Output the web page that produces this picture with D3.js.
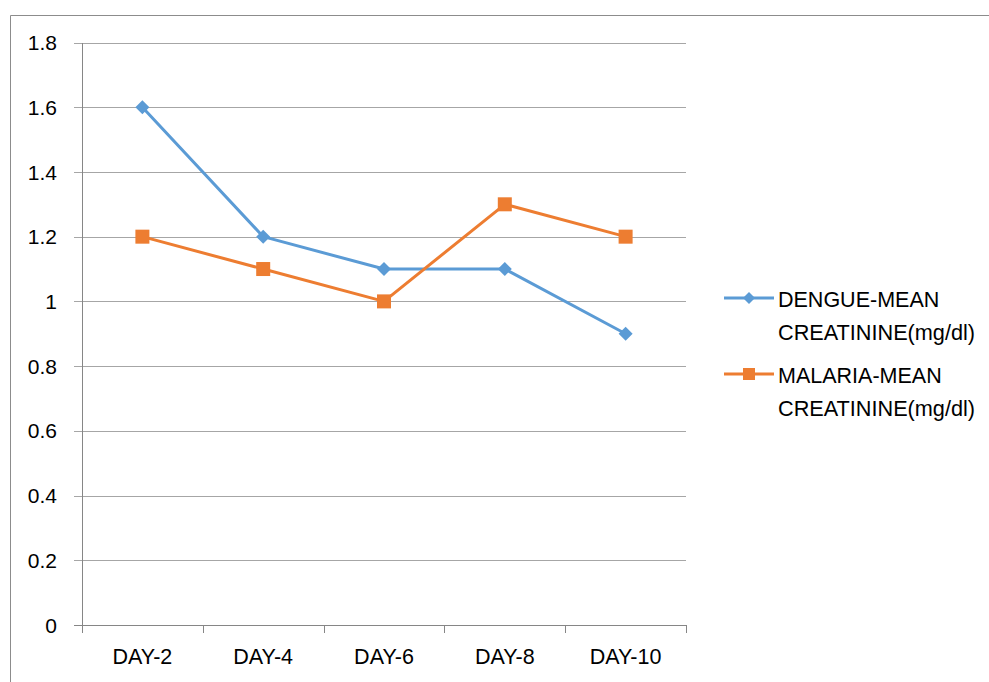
<!DOCTYPE html>
<html><head><meta charset="utf-8">
<script src="https://cdn.jsdelivr.net/npm/d3@7"></script>
<style>body{margin:0;background:#fff}svg{display:block}text{font-family:"Liberation Sans",Arial,sans-serif;fill:#000}</style>
</head><body><svg id="c" width="989" height="682"></svg>
<script>
const categories = ["DAY-2","DAY-4","DAY-6","DAY-8","DAY-10"];
const dengue = [1.6,1.2,1.1,1.1,0.9];
const malaria = [1.2,1.1,1.0,1.3,1.2];
const yTicks = [0,0.2,0.4,0.6,0.8,1,1.2,1.4,1.6,1.8];
const seriesNames = [["DENGUE-MEAN","CREATININE(mg/dl)"],["MALARIA-MEAN","CREATININE(mg/dl)"]];
const colors = ["#5B9BD5","#ED7D31"];

const svg = d3.select("#c");
const L=82,R=686,T=42.5,B=625;
svg.append("path").attr("d","M10.5,682 V15.5 H989").attr("fill","none").attr("stroke","#8c8c8c").attr("stroke-width",1);

const x = d3.scaleBand().domain(categories).range([L,R]);
const y = d3.scaleLinear().domain([0,1.8]).range([B,T]);

svg.append("g").selectAll("line").data(yTicks).join("line")
  .attr("x1",L-8).attr("x2",R).attr("y1",d=>Math.round(y(d))+0.5).attr("y2",d=>Math.round(y(d))+0.5)
  .attr("stroke",d=>d===0?"#868686":"#a6a6a6").attr("stroke-width",1);
svg.append("line").attr("x1",L+0.5).attr("x2",L+0.5).attr("y1",Math.round(T)).attr("y2",B+0.5).attr("stroke","#868686");
const bounds = categories.map(c=>x(c)).concat([R]);
svg.append("g").selectAll("line").data(bounds).join("line")
  .attr("x1",d=>Math.round(d)+0.5).attr("x2",d=>Math.round(d)+0.5).attr("y1",B).attr("y2",B+8).attr("stroke","#868686");
svg.append("g").selectAll("text").data(yTicks).join("text")
  .attr("x",57).attr("y",d=>y(d)).attr("dy","0.36em").attr("text-anchor","end").attr("font-size",21)
  .text(d=>d3.format("")(d));
svg.append("g").selectAll("text").data(categories).join("text")
  .attr("x",d=>x(d)+x.bandwidth()/2).attr("y",656).attr("dy","0.36em").attr("text-anchor","middle").attr("font-size",21.5)
  .text(d=>d);

const line = d3.line().x((d,i)=>x(categories[i])+x.bandwidth()/2).y(d=>y(d));
const data=[dengue,malaria];
data.forEach((s,k)=>{
  svg.append("path").attr("d",line(s)).attr("fill","none").attr("stroke",colors[k]).attr("stroke-width",3).attr("stroke-linejoin","round");
  const g=svg.append("g");
  s.forEach((v,i)=>{
    const cx=x(categories[i])+x.bandwidth()/2, cy=y(v);
    if(k===0) g.append("path").attr("d",`M${cx},${cy-7}L${cx+7},${cy}L${cx},${cy+7}L${cx-7},${cy}Z`).attr("fill",colors[k]);
    else g.append("rect").attr("x",cx-7).attr("y",cy-7).attr("width",14).attr("height",14).attr("fill",colors[k]);
  });
});

const legY=[298,374];
seriesNames.forEach((nm,k)=>{
  const ly=legY[k];
  svg.append("line").attr("x1",724).attr("x2",774).attr("y1",ly).attr("y2",ly).attr("stroke",colors[k]).attr("stroke-width",3);
  const cx=749;
  if(k===0) svg.append("path").attr("d",`M${cx},${ly-6}L${cx+6},${ly}L${cx},${ly+6}L${cx-6},${ly}Z`).attr("fill",colors[k]);
  else svg.append("rect").attr("x",cx-6).attr("y",ly-6).attr("width",12).attr("height",12).attr("fill",colors[k]);
  nm.forEach((t,j)=>{
    svg.append("text").attr("x",778).attr("y",ly+1+j*33).attr("dy","0.36em").attr("font-size",21.5).attr("textLength", j===1?197:null).attr("lengthAdjust","spacingAndGlyphs").text(t);
  });
});
</script></body></html>
